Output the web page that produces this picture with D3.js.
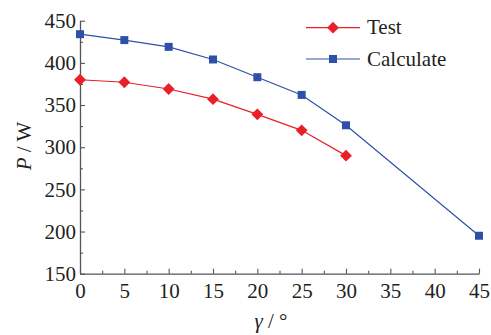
<!DOCTYPE html>
<html><head><meta charset="utf-8">
<script src="https://cdn.jsdelivr.net/npm/d3@7"></script>
</head><body style="margin:0"><svg id="c" width="491" height="335" font-family="Liberation Serif"></svg>
<script>
const angles = [0,5,10,15,20,25,30,45];
const testAngles = [0,5,10,15,20,25,30];
const testValues = [380,377,369,357,339,320,290];
const calcValues = [434,427,419,404,383,362,326,195];
const xTicks = [0,5,10,15,20,25,30,35,40,45];
const yTicks = [150,200,250,300,350,400,450];
const seriesNames = ["Test","Calculate"];

const TXT = "#231f20";
const svg = d3.select("#c");
const x = d3.scaleLinear().domain([0,45]).range([80,479]);
const y = d3.scaleLinear().domain([150,450]).range([273.7,20.7]);
const axisColor = "#555";

const gx = svg.append("g").attr("transform",`translate(0,${y(150)})`);
gx.call(d3.axisBottom(x).tickValues(xTicks).tickSizeInner(-5).tickSizeOuter(0).tickPadding(9));
gx.append("g").call(d3.axisBottom(x).tickValues(d3.range(2.5,45,5)).tickSize(-3).tickFormat(""));
const gy = svg.append("g").attr("transform",`translate(${x(0)},0)`);
gy.call(d3.axisLeft(y).tickValues(yTicks).tickSizeInner(-5).tickSizeOuter(0).tickPadding(4));
gy.append("g").call(d3.axisLeft(y).tickValues(d3.range(175,450,50)).tickSize(-3).tickFormat(""));
svg.selectAll("g").attr("font-family",null).attr("font-size",null);
svg.selectAll(".domain").attr("stroke",axisColor).attr("stroke-width",1.3);
svg.selectAll(".tick line").attr("stroke",axisColor).attr("stroke-width",1.1);
svg.selectAll(".tick text").attr("font-size",21).attr("fill",TXT);
svg.selectAll(".domain").filter(function(){return this.parentNode.parentNode!==svg.node();}).remove();

const red = "#e8202a", blue = "#2f50a8";
const line = d3.line().x(d=>x(d[0])).y(d=>y(d[1]));
const calc = angles.map((a,i)=>[a,calcValues[i]]);
const test = testAngles.map((a,i)=>[a,testValues[i]]);

svg.append("path").attr("d",line(calc)).attr("fill","none").attr("stroke",blue).attr("stroke-width",1.2);
svg.append("path").attr("d",line(test)).attr("fill","none").attr("stroke",red).attr("stroke-width",1.2);

const sq = d3.symbol().type(d3.symbolSquare).size(64);
const di = d3.symbol().type(d3.symbolSquare).size(70);
svg.selectAll(".cm").data(calc).join("path").attr("d",sq)
  .attr("transform",d=>`translate(${x(d[0])},${y(d[1])})`).attr("fill",blue);
svg.selectAll(".tm").data(test).join("path").attr("d",di)
  .attr("transform",d=>`translate(${x(d[0])},${y(d[1])}) rotate(45)`).attr("fill",red);

const leg = [[seriesNames[0],red,di,27.7,45],[seriesNames[1],blue,sq,59,0]];
leg.forEach(([n,c,s,ly,r])=>{
  svg.append("line").attr("x1",306).attr("x2",360).attr("y1",ly).attr("y2",ly).attr("stroke",c).attr("stroke-width",1.2);
  svg.append("path").attr("d",s).attr("transform",`translate(333,${ly}) rotate(${r})`).attr("fill",c);
  svg.append("text").attr("x",367).attr("y",ly+6.5).attr("font-size",21).attr("fill",TXT).text(n);
});

const yt = svg.append("text").attr("transform","translate(31,146) rotate(-90)").attr("text-anchor","middle").attr("font-size",21).attr("fill",TXT);
yt.append("tspan").attr("font-style","italic").text("P");
yt.append("tspan").text(" / W");
const xt = svg.append("text").attr("x",271).attr("y",328).attr("text-anchor","middle").attr("font-size",21).attr("fill",TXT);
xt.append("tspan").attr("font-style","italic").text("γ");
xt.append("tspan").text(" / °");
</script></body></html>
